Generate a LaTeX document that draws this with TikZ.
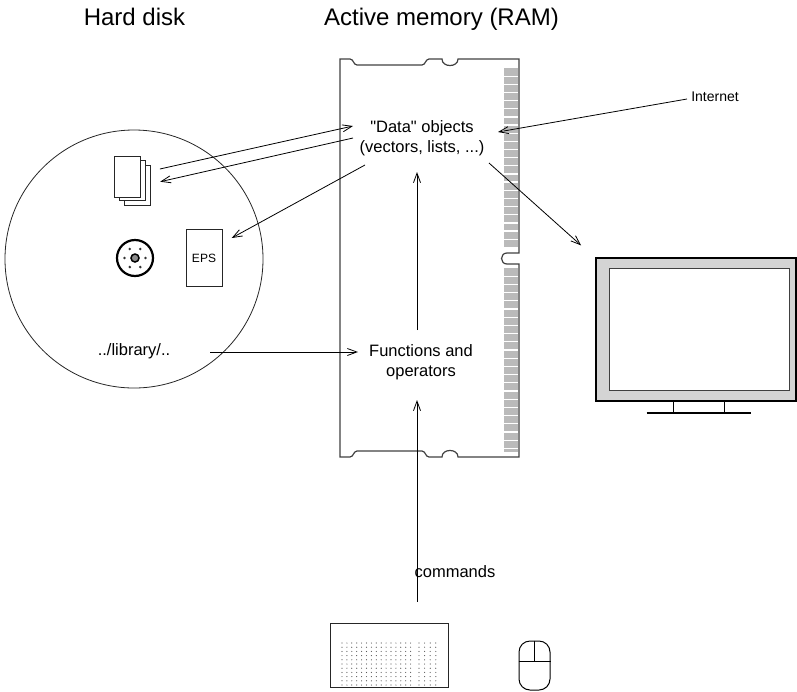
\documentclass[tikz,border=0pt]{standalone}
\usepackage{fontspec}
\setmainfont{Liberation Sans}
\usetikzlibrary{calc,arrows.meta}
\begin{document}
\begin{tikzpicture}[x=1pt,y=-1pt,
  arr/.style={-{Straight Barb[length=9.5pt,width=7pt]},line width=0.8pt},
  lbl/.style={font=\fontsize{16.5}{19.5}\selectfont,inner sep=0pt,align=center},
  ttl/.style={font=\fontsize{24}{28}\selectfont,inner sep=0pt,anchor=base},
  page/.style={draw=black!85,fill=white,line width=0.9pt},
  ramline/.style={draw=black!75,line width=1.2pt},
  stripe/.style={fill=black!27},
  gap/.style={white,line width=1.3pt}
]
\useasboundingbox (0,0) rectangle (797,691);

% titles
\node[ttl] (hdtitle) at (134.5,25) {Hard disk};
\node[ttl] (ramtitle) at (441.5,25) {Active memory (RAM)};

% ---- hard disk ----
\node[circle,draw=black!85,line width=0.8pt,minimum size=258pt,inner sep=0] (disk) at (134,259) {};

% stack of pages
\node[inner sep=0,minimum width=36.7pt,minimum height=49pt] (files) at (132.35,180.5) {};
\draw[page] (124.3,165) rectangle (150.7,205);
\draw[page] (119.3,160.5) rectangle (145,200.7);
\draw[page] (114,156) rectangle (140,197.3);

% disc
\node[circle,draw=black,line width=2.2pt,minimum size=36pt,inner sep=0] (disc) at (135,258) {};
\filldraw[fill=black!45,draw=black,line width=1.5pt] (disc.center) circle (4);
\foreach \a in {0,60,...,300}
  \fill[black!80] ($(disc.center)+(\a:10.5)$) circle (1.4);

% EPS file
\node[draw=black!85,line width=0.9pt,minimum width=36pt,minimum height=57.5pt,inner sep=0,
      font=\fontsize{12}{14}\selectfont] (eps) at (204,258) {EPS};

\node[lbl] (lib) at (134,351) {../library/..};

% ---- RAM module ----
\fill[stripe] (503.5,68) rectangle (518.4,247);
\foreach \k in {1,...,21} \draw[gap] (503.5,68+8.15*\k) -- (518.4,68+8.15*\k);
\fill[stripe] (503.5,268) rectangle (518.4,452);
\foreach \k in {1,...,22} \draw[gap] (503.5,268+8.2*\k) -- (518.4,268+8.2*\k);

\draw[ramline] (340,59) -- (350,59)
  .. controls (353.5,59) and (353.5,65) .. (357,65) -- (422,65)
  .. controls (425.5,65) and (425.5,59) .. (429,59) -- (442,59)
  .. controls (442,67.7) and (458,67.7) .. (458,59) -- (519,59)
  -- (519,253) -- (507,253)
  .. controls (499.7,253) and (499.7,264) .. (507,264) -- (519,264)
  -- (519,457) -- (458,457)
  .. controls (458,448.3) and (442,448.3) .. (442,457) -- (429,457)
  .. controls (425.5,457) and (425.5,451) .. (422,451) -- (357,451)
  .. controls (353.5,451) and (353.5,457) .. (350,457) -- (340,457) -- cycle;

\node[lbl] (data) at (422,138) {\textquotedbl Data\textquotedbl{} objects\\(vectors, lists, ...)};
\node[lbl] (func) at (421,362) {Functions and\\operators};

% ---- outside world ----
\node[lbl,font=\fontsize{14}{16}\selectfont] (internet) at (715,97) {Internet};
\node[lbl] (cmd) at (455,572) {commands};

% monitor
\node[draw=black,line width=1.8pt,fill=black!17,minimum width=200pt,minimum height=142.7pt,inner sep=0] (monitor) at (696,329.65) {};
\node[draw=black!75,line width=1pt,fill=white,minimum width=180pt,minimum height=122.4pt,inner sep=0] (screen) at (699.3,329.5) {};
\draw[line width=1.5pt] (673.3,401.5) -- (673.3,412.7) (724.3,401.5) -- (724.3,412.7);
\draw[line width=2pt] (646.7,412.7) -- (751,412.7);

% keyboard
\node[draw=black!85,line width=1pt,minimum width=118pt,minimum height=64pt,inner sep=0] (kbd) at (389,655) {};
\foreach \i in {0,...,14}
  \foreach \k in {0,...,10}
    \fill[black!65] (342+4.9*\i,643+4.2*\k) circle (0.6);
\foreach \i in {0,...,3}
  \foreach \k in {0,...,10}
    \fill[black!65] (419+5.6*\i,643+4.2*\k) circle (0.6);

% mouse
\node[draw=black,line width=1pt,rounded corners=11pt,minimum width=31pt,minimum height=49pt,inner sep=0] (mouse) at (534.5,665.5) {};
\draw[line width=1pt] (mouse.west |- 0,661.7) -- (mouse.east |- 0,661.7);
\draw[line width=1pt] (mouse.north) -- (534.5,661.7);

% ---- data flow ----
\draw[arr] ($(files.east)+(9,-11.5)$) -- ($(data.center)+(-69,-12)$);
\draw[arr] ($(data.center)+(-69,0)$) -- ($(files.east)+(9.3,1.2)$);
\draw[arr] ($(data.center)+(-57,27)$) -- ($(eps.center)+(27.7,-20)$);
\draw[arr] ($(internet.center)+(-28,2)$) -- ($(data.center)+(76,-6)$);
\draw[arr] ($(data.center)+(67,25)$) -- ($(monitor.north west)+(-14,-12)$);
\draw[arr] ($(lib.center)+(76,1)$) -- ($(func.center)+(-63,-10)$);
\draw[arr] ($(func.center)+(-4,-32)$) -- ($(data.center)+(-5,34)$);
\draw[arr] ($(kbd.north)+(28,-21)$) -- ($(func.center)+(-4,38)$);
\end{tikzpicture}
\end{document}
